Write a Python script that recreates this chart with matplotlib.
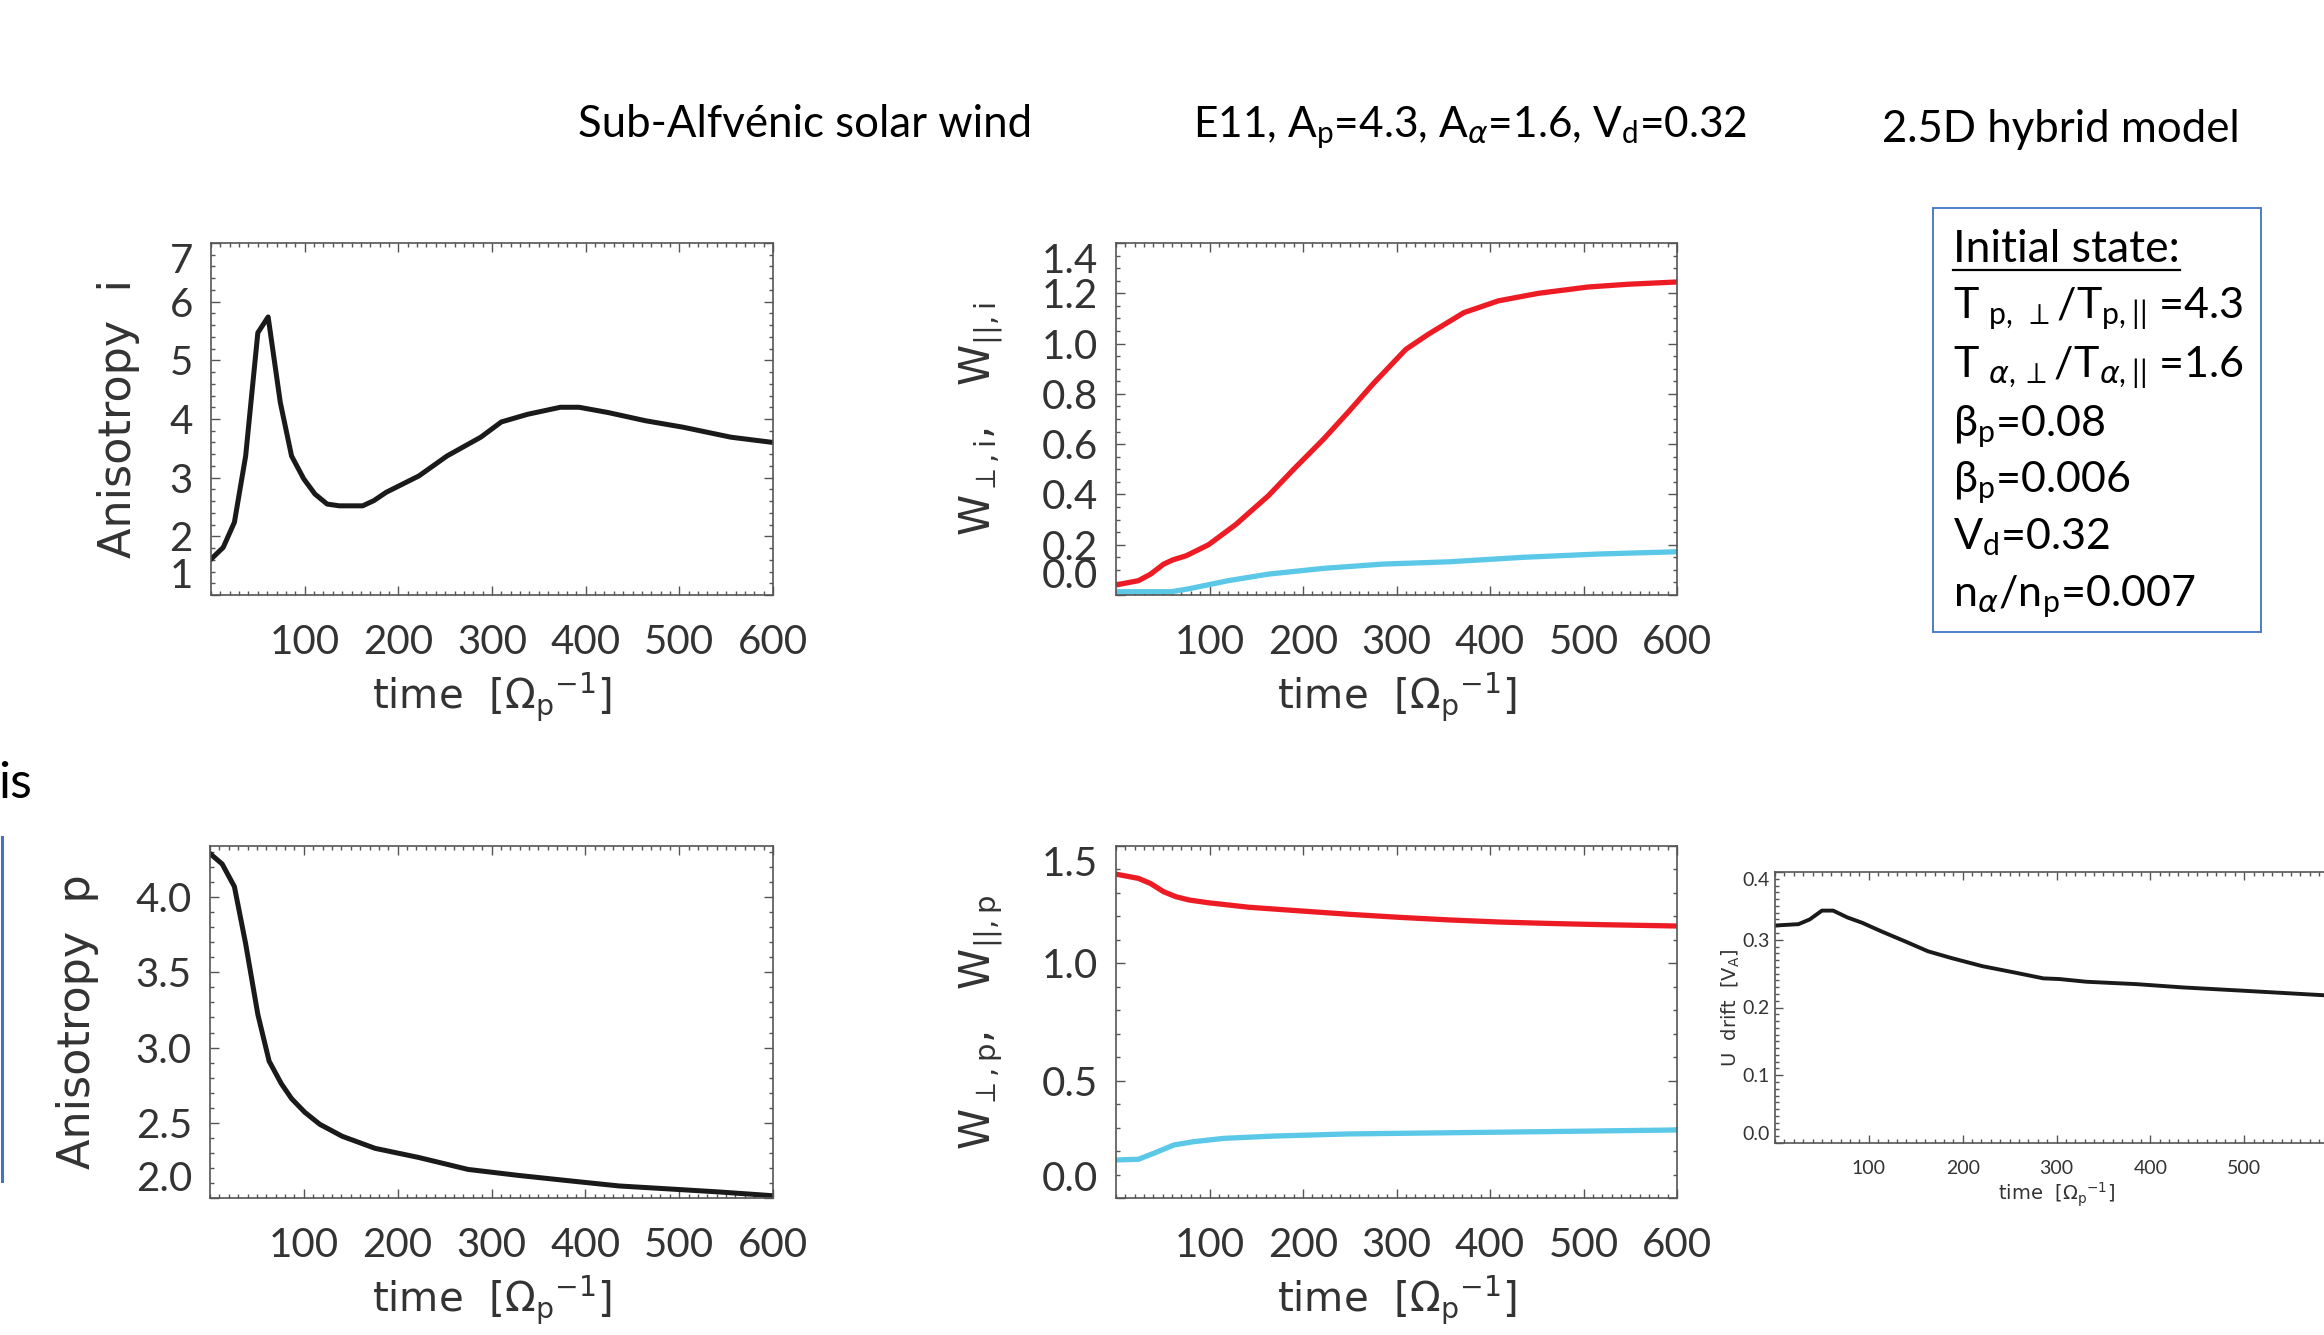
import matplotlib.pyplot as plt
from matplotlib.ticker import MultipleLocator, FixedLocator
from matplotlib.lines import Line2D
from matplotlib.patches import Rectangle

plt.rcParams['mathtext.fontset'] = 'custom'
plt.rcParams['mathtext.rm'] = 'Lato'
plt.rcParams['mathtext.sf'] = 'DejaVu Sans'
plt.rcParams['mathtext.fallback'] = 'stixsans'

W, H, DPI = 2324, 1335, 100
IDL_FONT = ['Lato', 'DejaVu Sans']
LAB_FONT = ['DejaVu Sans']
SLIDE_FONT = ['Lato', 'DejaVu Sans']
TXT = '#333333'
AXC = '#555555'
RED = '#ED1C24'
CYAN = '#5BC8E8'
BLK = '#1a1a1a'
OFFICE_BLUE = '#4472C4'

# ---- data ----
time_ticks = [100, 200, 300, 400, 500, 600]

# anisotropy of alphas (top left)
ai_t = [0, 13, 25, 37, 50, 61, 74, 86, 99, 111, 124, 137, 162, 174, 187,
        222, 252, 288, 310, 338, 373, 393, 424, 464, 504, 555, 600]
ai_v = [1.61, 1.81, 2.24, 3.37, 5.47, 5.74, 4.28, 3.37, 2.98, 2.72, 2.55, 2.52,
        2.52, 2.61, 2.75, 3.03, 3.37, 3.69, 3.95, 4.08, 4.20, 4.20, 4.11, 3.97,
        3.86, 3.69, 3.60]

# alpha energies (top middle)
wi_perp_t = [0, 24, 37, 51, 61, 75, 99, 128, 163, 190, 222, 249, 275, 310,
             334, 372, 409, 452, 505, 548, 600]
wi_perp = [0.04, 0.057, 0.083, 0.123, 0.14, 0.156, 0.20, 0.28, 0.395, 0.50,
           0.62, 0.73, 0.84, 0.977, 1.037, 1.123, 1.17, 1.20, 1.225, 1.236, 1.245]
wi_par_t = [0, 59, 77, 120, 163, 222, 286, 356, 436, 516, 600]
wi_par = [0.013, 0.013, 0.024, 0.057, 0.083, 0.106, 0.123, 0.132, 0.15, 0.163, 0.172]

# anisotropy of protons (bottom left)
ap_t = [0, 13, 26, 38, 51, 63, 76, 87, 101, 117, 141, 176, 222, 275, 329,
        382, 436, 490, 543, 600]
ap_v = [4.29, 4.22, 4.07, 3.69, 3.22, 2.91, 2.76, 2.66, 2.57, 2.49, 2.41, 2.33,
        2.27, 2.19, 2.15, 2.115, 2.08, 2.06, 2.04, 2.015]

# proton energies (bottom middle)
wp_perp_t = [0, 24, 37, 51, 64, 78, 99, 142, 195, 249, 303, 356, 410, 463, 517, 600]
wp_perp = [1.38, 1.362, 1.34, 1.305, 1.284, 1.27, 1.258, 1.239, 1.224, 1.209,
           1.196, 1.185, 1.176, 1.17, 1.165, 1.159]
wp_par_t = [0, 24, 40, 62, 83, 115, 169, 249, 356, 463, 600]
wp_par = [0.162, 0.165, 0.19, 0.226, 0.24, 0.254, 0.264, 0.273, 0.278, 0.283, 0.29]

# drift speed (bottom right)
ud_t = [0, 25, 37, 50, 62, 77, 93, 114, 138, 163, 188, 221, 254, 286, 303,
        332, 385, 435, 496, 586, 600]
ud_v = [0.321, 0.323, 0.330, 0.343, 0.343, 0.333, 0.325, 0.312, 0.298, 0.283,
        0.273, 0.261, 0.252, 0.243, 0.242, 0.238, 0.2345, 0.2296, 0.225, 0.218, 0.2175]

box_lines = [
    r'T$_{\mathrm{\ p,}\,\perp}$/T$_{\mathrm{p,||}}$ =4.3',
    r'T$_{\mathrm{\ }\alpha\mathrm{,}\,\perp}$/T$_{\alpha\mathrm{,||}}$ =1.6',
    r'β$_{\mathrm{p}}$=0.08',
    r'β$_{\mathrm{p}}$=0.006',
    r'V$_{\mathrm{d}}$=0.32',
    r'n$_{\alpha}$/n$_{\mathrm{p}}$=0.007',
]

fig = plt.figure(figsize=(W / DPI, H / DPI), dpi=DPI)


def rect(l, t, r, b):
    return [l / W, 1 - b / H, (r - l) / W, (b - t) / H]


def fx(x):
    return x / W


def fy(y):
    return 1 - y / H


def idl_axes(r, ylim, yticks, yminor, ylabel, ylab_x, fs=29, lfs=29, yfs=32,
             clamp_top=True, clamp_bot=True, small=False, xlabels=time_ticks):
    ax = fig.add_axes(r)
    ax.set_xlim(0, 600)
    ax.set_ylim(*ylim)
    ax.xaxis.set_major_locator(FixedLocator(time_ticks))
    ax.xaxis.set_minor_locator(MultipleLocator(10))
    ax.yaxis.set_major_locator(FixedLocator(yticks))
    ax.yaxis.set_minor_locator(MultipleLocator(yminor))
    ax.set_xticklabels([str(t) if t in xlabels else '' for t in time_ticks])
    ax.set_yticklabels([f'{v:.1f}' if isinstance(v, float) else str(v) for v in yticks])
    if small:
        ax.tick_params(which='major', length=6, pad=4)
        ax.tick_params(which='minor', length=3)
        ax.tick_params(axis='x', pad=12)
    else:
        ax.tick_params(which='major', length=6.5, pad=13)
        ax.tick_params(which='minor', length=3.2)
        ax.tick_params(axis='x', pad=21)
    ax.tick_params(which='both', direction='in', top=True, right=True,
                   color=AXC, width=1.0, labelsize=fs, labelcolor=TXT,
                   labelfontfamily=IDL_FONT)
    for s in ax.spines.values():
        s.set_color(AXC)
        s.set_linewidth(1.2)
    yl = ax.get_yticklabels()
    if clamp_top:
        yl[-1].set_va('top')
    if clamp_bot:
        yl[0].set_va('bottom')
    ax.set_ylabel(ylabel, fontsize=yfs, color=TXT, family=LAB_FONT, va='center')
    ax.yaxis.set_label_coords(ylab_x, 0.5)
    ax.set_xlabel(r'time  [$\mathsf{\Omega_{p}{}^{-1}}$]', fontsize=lfs,
                  color=TXT, family=LAB_FONT, va='center')
    ax.xaxis.set_label_coords(0.5, -0.19 if small else -0.29)
    return ax


# top left
ax1 = idl_axes(rect(211, 243, 773, 595), (1, 7), [1, 2, 3, 4, 5, 6, 7], 0.2,
               'Anisotropy  i', -0.165)
ax1.plot(ai_t, ai_v, color=BLK, lw=3.6)

# top middle
ax2 = idl_axes(rect(1116, 243, 1677, 595), (0, 1.4),
               [0.0, 0.2, 0.4, 0.6, 0.8, 1.0, 1.2, 1.4], 0.05,
               r'W$_{\mathsf{\perp,i}}$,   W$_{\mathsf{||,i}}$', -0.24, yfs=30)
ax2.plot(wi_perp_t, wi_perp, color=RED, lw=3.8)
ax2.plot(wi_par_t, wi_par, color=CYAN, lw=3.8)

# bottom left
ax3 = idl_axes(rect(210, 846, 773, 1198), (2.0, 4.34),
               [2.0, 2.5, 3.0, 3.5, 4.0], 0.1, 'Anisotropy  p', -0.235,
               clamp_top=False)
ax3.plot(ap_t, ap_v, color=BLK, lw=3.6)

# bottom middle
ax4 = idl_axes(rect(1116, 846, 1677, 1198), (0, 1.5), [0.0, 0.5, 1.0, 1.5], 0.1,
               r'W$_{\mathsf{\perp,p}}$,   W$_{\mathsf{||,p}}$', -0.24, yfs=30)
ax4.plot(wp_perp_t, wp_perp, color=RED, lw=3.8)
ax4.plot(wp_par_t, wp_par, color=CYAN, lw=3.8)

# bottom right (runs off the slide edge)
ax5 = idl_axes(rect(1775, 872, 2338, 1143), (0, 0.4), [0.0, 0.1, 0.2, 0.3, 0.4],
               0.01, r'U  drift  [V$_{\mathsf{A}}$]', -0.078, fs=14, lfs=14,
               yfs=14, small=True, xlabels=time_ticks[:-1])
ax5.plot(ud_t, ud_v, color=BLK, lw=2.8)

# ---- slide texts ----
fig.text(fx(578), fy(137), 'Sub-Alfvénic solar wind', fontsize=31.5,
         family=SLIDE_FONT, va='baseline', ha='left')
fig.text(fx(1193), fy(137), r'E11, A$_{\mathrm{p}}$=4.3, A$_{\alpha}$=1.6, V$_{\mathrm{d}}$=0.32',
         fontsize=30.5, family=SLIDE_FONT, va='baseline', ha='left')
fig.text(fx(1882), fy(142), '2.5D hybrid model', fontsize=31.5,
         family=SLIDE_FONT, va='baseline', ha='left')

fig.add_artist(Rectangle((fx(1933), fy(632)), (2261 - 1933) / W, (632 - 208) / H,
                         transform=fig.transFigure, fill=False,
                         edgecolor=OFFICE_BLUE, lw=1.3))
head = fig.text(fx(1953), fy(262), 'Initial state:', fontsize=32,
                family=SLIDE_FONT, va='baseline', ha='left')
baselines = [318, 377, 436, 492, 549, 606]
for txt, yb in zip(box_lines, baselines):
    fig.text(fx(1953), fy(yb), txt, fontsize=31, family=SLIDE_FONT,
             va='baseline', ha='left')

fig.canvas.draw()
bb = head.get_window_extent()
fig.add_artist(Line2D([bb.x0 / W, bb.x1 / W], [fy(270), fy(270)],
                      transform=fig.transFigure, color='black', lw=1.6))

# cut-off bits of the slide on the left
fig.text(fx(32), fy(798), 'is', fontsize=36, family=SLIDE_FONT,
         va='baseline', ha='right')
fig.add_artist(Line2D([fx(1.5), fx(1.5)], [fy(837), fy(1181)],
                      transform=fig.transFigure, color=OFFICE_BLUE, lw=2.2))

fig.savefig('out.png', dpi=DPI)
